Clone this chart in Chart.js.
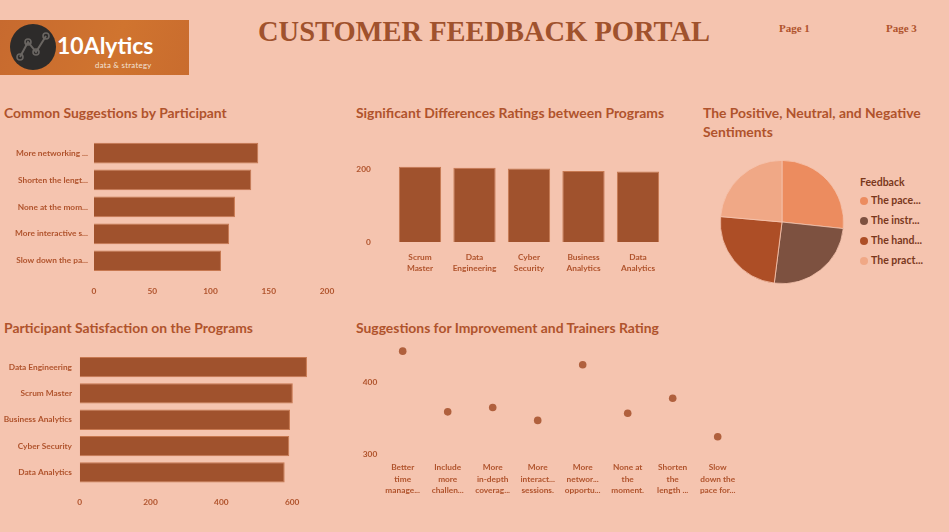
<!DOCTYPE html>
<html><head><meta charset="utf-8">
<script src="https://cdn.jsdelivr.net/npm/chart.js@4"></script>
<style>
html,body{margin:0;padding:0;width:949px;height:532px;overflow:hidden;background:#F5C4AF;}
.abs{position:absolute;}
.title{position:absolute;font-family:Lato,sans-serif;font-weight:700;font-size:13.9px;color:#B0532C;white-space:nowrap;line-height:19px;}
#main{position:absolute;left:258px;top:14px;font-family:"Liberation Serif",serif;font-weight:700;font-size:30px;color:#A0522D;white-space:nowrap;transform-origin:0 0;}
.page{position:absolute;font-family:"Liberation Serif",serif;font-weight:700;font-size:11px;color:#B0532C;}
#logo{position:absolute;left:0;top:20px;width:189px;height:55px;background:linear-gradient(110deg,#C76A2F 0%,#D0742F 60%,#C96C2E 100%);}
#leg{position:absolute;left:860px;top:176px;font-family:Lato,sans-serif;font-weight:700;font-size:10.5px;color:#7A381C;}
#leg div{height:20px;line-height:12px;white-space:nowrap;}
#leg span.dot{display:inline-block;width:8px;height:8px;border-radius:50%;margin-right:3px;vertical-align:-1px;}
</style></head>
<body>
<div id="logo">
 <svg width="189" height="55" style="position:absolute;left:0;top:0">
  <circle cx="33" cy="27" r="23" fill="#2D2B2A"/>
  <polyline points="20,37 28,22 36,32 46,16" fill="none" stroke="#6A6662" stroke-width="2"/>
  <circle cx="20" cy="37" r="3" fill="none" stroke="#6A6662" stroke-width="1.6"/>
  <circle cx="28" cy="22" r="3" fill="none" stroke="#6A6662" stroke-width="1.6"/>
  <circle cx="36" cy="32" r="3" fill="none" stroke="#6A6662" stroke-width="1.6"/>
  <circle cx="46" cy="16" r="3" fill="none" stroke="#6A6662" stroke-width="1.6"/>
  <text x="57" y="34" fill="#FFFFFF" font-family="Lato,sans-serif" font-weight="700" font-size="23">10Alytics</text>
  <text x="95" y="48" fill="#F3E3D6" font-family="Lato,sans-serif" font-size="7.8" letter-spacing="0.3">data &amp; strategy</text>
 </svg>
</div>
<div id="main">CUSTOMER FEEDBACK PORTAL</div>
<div class="page" style="left:779px;top:22px;">Page 1</div>
<div class="page" style="left:886px;top:22px;">Page 3</div>

<div class="title" style="left:4px;top:103px;">Common Suggestions by Participant</div>
<div class="title" style="left:356px;top:103px;">Significant Differences Ratings between Programs</div>
<div class="title" style="left:703px;top:103px;">The Positive, Neutral, and Negative<br>Sentiments</div>
<div class="title" style="left:4px;top:318px;">Participant Satisfaction on the Programs</div>
<div class="title" style="left:356px;top:318px;">Suggestions for Improvement and Trainers Rating</div>

<canvas id="c1" class="abs" style="left:0;top:130px;" width="345" height="175"></canvas>
<canvas id="c2" class="abs" style="left:345px;top:140px;" width="335" height="145"></canvas>
<canvas id="c3" class="abs" style="left:720px;top:160px;" width="124" height="124"></canvas>
<div id="leg"></div>
<canvas id="c4" class="abs" style="left:0;top:345px;" width="345" height="175"></canvas>
<canvas id="c5" class="abs" style="left:345px;top:330px;" width="410" height="175"></canvas>

<script>
// ---- data ----
const sugLabels = ["More networking ...","Shorten the lengt...","None at the mom...","More interactive s...","Slow down the pa..."];
const sugValues = [141,135,121,116,109];
const sugTicks = [0,50,100,150,200];

const progLabels = [["Scrum","Master"],["Data","Engineering"],["Cyber","Security"],["Business","Analytics"],["Data","Analytics"]];
const progValues = [207,204,202,195,194];
const progTicks = [0,200];

const sentLabels = ["The pace...","The instr...","The hand...","The pract..."];
const sentValues = [26.7,25.3,24.4,23.6];
const sentColors = ["#EC8C5F","#7D5140","#AD4E26","#F0A886"];
const sentTitle = "Feedback";

const satLabels = ["Data Engineering","Scrum Master","Business Analytics","Cyber Security","Data Analytics"];
const satValues = [642,602,594,592,579];
const satTicks = [0,200,400,600];

const impLabels = [["Better","time","manage..."],["Include","more","challen..."],["More","in-depth","coverag..."],["More","interact...","sessions."],["More","networ...","opportu..."],["None at","the","moment."],["Shorten","the","length ..."],["Slow","down the","pace for..."]];
const impValues = [444,359,365,347,425,357,378,324];
const impTicks = [300,400];

// ---- styling ----
const BAR = "#A0522D", TXT = "#B0532C";
Chart.defaults.font.family = "Lato, sans-serif";
Chart.defaults.font.weight = "bold";
Chart.defaults.font.size = 8.3;
Chart.defaults.color = TXT;
Chart.defaults.animation = false;
Chart.defaults.plugins.legend.display = false;
Chart.defaults.plugins.tooltip.enabled = false;

function fixTicks(arr){ return s => { s.ticks = arr.map(v => ({value:v})); }; }
function noGrid(){ return {display:false, drawTicks:false}; }
function fitW(w){ return s => { s.width = w; s.paddingTop = 0; s.paddingBottom = 0; s.paddingLeft = 0; s.paddingRight = 0; }; }
function fitH(h){ return s => { s.height = h; s.paddingTop = 0; s.paddingBottom = 0; s.paddingLeft = 0; s.paddingRight = 0; }; }

// main title width fit
const mt = document.getElementById('main');
const w = mt.getBoundingClientRect().width;
mt.style.transform = 'scaleX(' + (452 / w) + ')';

// legend from data
const leg = document.getElementById('leg');
let h = '<div style="height:18px">' + sentTitle + '</div>';
sentLabels.forEach((l,i) => { h += '<div><span class="dot" style="background:' + sentColors[i] + '"></span>' + l + '</div>'; });
leg.innerHTML = h;

// Chart 1
new Chart(document.getElementById('c1'), {
  type: 'bar',
  data: { labels: sugLabels, datasets: [{ data: sugValues, backgroundColor: BAR, borderColor: "#C77850", borderWidth: 1, categoryPercentage: 1, barPercentage: 0.77 }] },
  options: {
    indexAxis: 'y', responsive: false,
    layout: { padding: { top: 9.6, right: 18, bottom: 0, left: 0 } },
    scales: {
      x: { min: 0, max: 200, afterBuildTicks: fixTicks(sugTicks), grid: noGrid(), border: {display:false}, ticks: { padding: 12 }, afterFit: fitH(30.8) },
      y: { grid: noGrid(), border: {display:false}, ticks: { padding: 6 }, afterFit: fitW(94) }
    }
  }
});

// Chart 2
new Chart(document.getElementById('c2'), {
  type: 'bar',
  data: { labels: progLabels, datasets: [{ data: progValues, backgroundColor: BAR, borderColor: "#C77850", borderWidth: 1, categoryPercentage: 1, barPercentage: 0.776 }] },
  options: {
    responsive: false,
    layout: { padding: { top: 11.1, right: 14.75, bottom: 0, left: 0 } },
    scales: {
      y: { min: 0, max: 250, afterBuildTicks: fixTicks(progTicks), grid: noGrid(), border: {display:false}, ticks: { padding: 22 }, afterFit: fitW(47.75) },
      x: { grid: noGrid(), border: {display:false}, ticks: { padding: 10, maxRotation: 0, autoSkip: false, font: { lineHeight: 1.35 } }, afterFit: fitH(43) }
    }
  }
});

// Chart 3
new Chart(document.getElementById('c3'), {
  type: 'pie',
  data: { labels: sentLabels, datasets: [{ data: sentValues, backgroundColor: sentColors, borderColor: "#F5C4AF", borderWidth: 0.8 }] },
  options: { responsive: false, layout: { padding: 0 } }
});

// Chart 4
new Chart(document.getElementById('c4'), {
  type: 'bar',
  data: { labels: satLabels, datasets: [{ data: satValues, backgroundColor: BAR, borderColor: "#C77850", borderWidth: 1, categoryPercentage: 1, barPercentage: 0.77 }] },
  options: {
    indexAxis: 'y', responsive: false,
    layout: { padding: { top: 9, right: 17.5, bottom: 0, left: 0 } },
    scales: {
      x: { min: 0, max: 700, afterBuildTicks: fixTicks(satTicks), grid: noGrid(), border: {display:false}, ticks: { padding: 12 }, afterFit: fitH(34.5) },
      y: { grid: noGrid(), border: {display:false}, ticks: { padding: 7.7 }, afterFit: fitW(79.7) }
    }
  }
});

// Chart 5
new Chart(document.getElementById('c5'), {
  type: 'line',
  data: { labels: impLabels, datasets: [{ data: impValues, showLine: false, pointRadius: 3.8, pointBackgroundColor: "#B0603D", pointBorderWidth: 0 }] },
  options: {
    responsive: false,
    layout: { padding: { top: 9.7, right: 14.8, bottom: 0, left: 0 } },
    scales: {
      y: { min: 290, max: 460, afterBuildTicks: fixTicks(impTicks), grid: noGrid(), border: {display:false}, ticks: { padding: 3 }, afterFit: fitW(35.2) },
      x: { offset: true, grid: noGrid(), border: {display:false}, ticks: { padding: 1, maxRotation: 0, autoSkip: false, font: { lineHeight: 1.35 } }, afterFit: fitH(43.9) }
    }
  }
});
</script>
</body></html>
